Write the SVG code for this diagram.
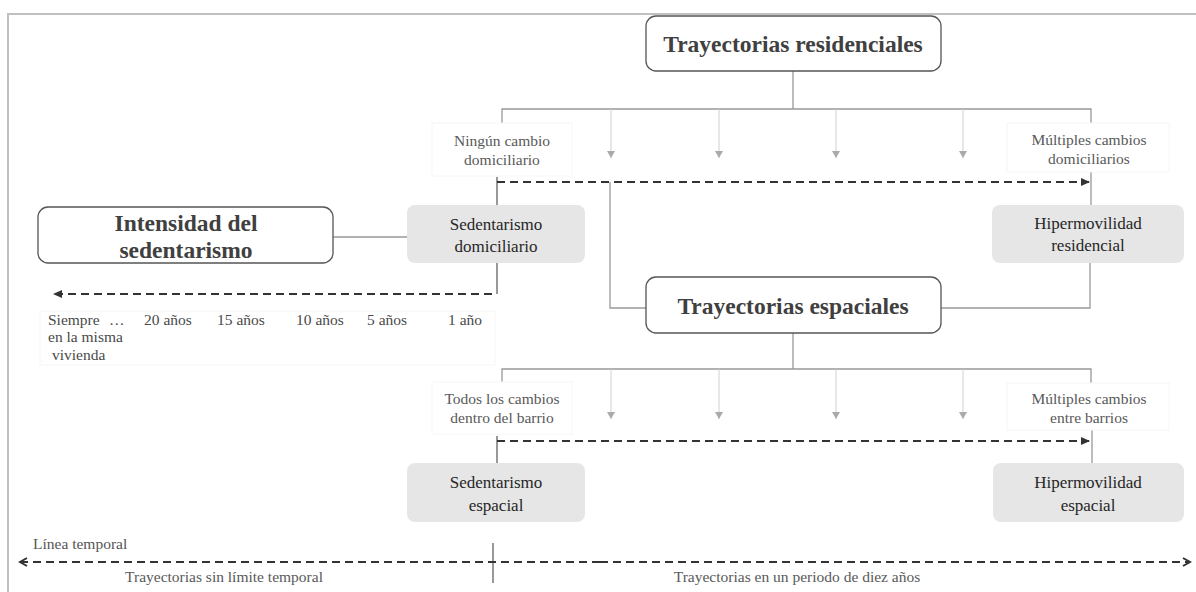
<svg xmlns="http://www.w3.org/2000/svg" width="1196" height="592" viewBox="0 0 1196 592">
<style>
.frame{fill:none;stroke:#c0c0c0;stroke-width:2}
.title{fill:#fff;stroke:#555;stroke-width:1.3}
.grey{fill:#e6e6e6;stroke:none}
.lbox{fill:#fff;stroke:#f6f6f6;stroke-width:1}
.t{font-family:"Liberation Serif","Times New Roman",serif;text-anchor:middle}
.tb{font-size:23.5px;font-weight:bold;fill:#404040}
.tn{font-size:17px;fill:#262626}
.tl{font-size:15.5px;fill:#595959}
.tm{font-family:"Liberation Serif","Times New Roman",serif;font-size:15.5px;fill:#4a4a4a}
.conn{fill:none;stroke:#999;stroke-width:1.3}
.thin{fill:none;stroke:#d0d0d0;stroke-width:1}
.dash{fill:none;stroke:#333;stroke-width:2;stroke-dasharray:8 5}
.tick{fill:none;stroke:#333;stroke-width:1}
</style>
<defs>
<marker id="ga" markerWidth="8" markerHeight="8" refX="4" refY="7" orient="0" markerUnits="userSpaceOnUse">
<path d="M0,0 L8,0 L4,7 Z" fill="#aaa"/>
</marker>
<marker id="da" markerWidth="9" markerHeight="8" refX="8" refY="4" orient="auto" markerUnits="userSpaceOnUse">
<path d="M0,0 L9,4 L0,8 Z" fill="#333"/>
</marker>
<marker id="oa" markerWidth="10" markerHeight="10" refX="8" refY="5" orient="auto" markerUnits="userSpaceOnUse">
<path d="M1,1 L8,5 L1,9" fill="none" stroke="#333" stroke-width="2"/>
</marker>
</defs>
<rect width="1196" height="592" fill="#fff"/>
<path class="frame" d="M8,592 L8,14 L1196,14"/>

<g id="connectors">
<path class="conn" d="M793,71 L793,109"/>
<path class="conn" d="M502,133 L502,109 L1091,109 L1091,125"/>
<path class="thin" d="M611,109 L611,158" marker-end="url(#ga)"/>
<path class="thin" d="M719,109 L719,158" marker-end="url(#ga)"/>
<path class="thin" d="M836,109 L836,158" marker-end="url(#ga)"/>
<path class="thin" d="M963,109 L963,158" marker-end="url(#ga)"/>
<path class="dash" d="M497,182 L1089,182" marker-end="url(#da)"/>
<path class="tick" d="M497,177 L497,205"/>
<path class="conn" d="M1091,172 L1091,205"/>
<path class="conn" d="M610,182 L610,308 L646,308"/>
<path class="conn" d="M1090,263 L1090,308 L941,308"/>
<path class="conn" d="M333,237 L407,237"/>
<path class="tick" d="M497,263 L497,294"/>
<path class="dash" d="M492,294 L54,294" marker-end="url(#da)"/>
<path class="conn" d="M793,333 L793,369"/>
<path class="conn" d="M502,391 L502,369 L1091,369 L1091,385"/>
<path class="thin" d="M611,369 L611,419" marker-end="url(#ga)"/>
<path class="thin" d="M719,369 L719,419" marker-end="url(#ga)"/>
<path class="thin" d="M836,369 L836,419" marker-end="url(#ga)"/>
<path class="thin" d="M963,369 L963,419" marker-end="url(#ga)"/>
<path class="dash" d="M497,441 L1089,441" marker-end="url(#da)"/>
<path class="tick" d="M497,436 L497,463"/>
<path class="conn" d="M1092,430 L1092,463"/>
<path class="dash" d="M600,562 L20,562" marker-end="url(#oa)"/>
<path class="dash" d="M600,562 L1190,562" marker-end="url(#oa)"/>
<path class="tick" d="M493,543 L493,583"/>
</g>

<g id="residenciales">
<rect class="title" x="646" y="16" width="295" height="55" rx="10"/>
<text class="t tb" x="793" y="52">Trayectorias residenciales</text>
</g>

<g id="ningun-cambio">
<rect class="lbox" x="432" y="123" width="140" height="53"/>
<text class="t tl" x="502" y="146">Ningún cambio</text>
<text class="t tl" x="502" y="165">domiciliario</text>
</g>

<g id="multiples-domiciliarios">
<rect class="lbox" x="1007" y="123" width="162" height="49"/>
<text class="t tl" x="1089" y="145">Múltiples cambios</text>
<text class="t tl" x="1089" y="164">domiciliarios</text>
</g>

<g id="intensidad">
<rect class="title" x="38" y="207" width="295" height="56" rx="10"/>
<text class="t tb" x="186" y="231">Intensidad del</text>
<text class="t tb" x="186" y="258">sedentarismo</text>
</g>

<g id="sed-domiciliario">
<rect class="grey" x="407" y="205" width="178" height="58" rx="8"/>
<text class="t tn" x="496" y="230">Sedentarismo</text>
<text class="t tn" x="496" y="252">domiciliario</text>
</g>

<g id="hiper-residencial">
<rect class="grey" x="992" y="205" width="192" height="58" rx="8"/>
<text class="t tn" x="1088" y="229">Hipermovilidad</text>
<text class="t tn" x="1088" y="251">residencial</text>
</g>

<g id="escala">
<rect class="lbox" x="40" y="311" width="455" height="54"/>
<text class="tm" x="48" y="325">Siempre</text>
<text class="tm" x="109" y="325">…</text>
<text class="tm" x="144" y="325">20 años</text>
<text class="tm" x="217" y="325">15 años</text>
<text class="tm" x="296" y="325">10 años</text>
<text class="tm" x="367" y="325">5 años</text>
<text class="tm" x="448" y="325">1 año</text>
<text class="tm" x="48" y="342">en la misma</text>
<text class="tm" x="52" y="360">vivienda</text>
</g>

<g id="espaciales">
<rect class="title" x="646" y="277" width="295" height="56" rx="10"/>
<text class="t tb" x="793" y="314">Trayectorias espaciales</text>
</g>

<g id="todos-cambios">
<rect class="lbox" x="432" y="382" width="140" height="52"/>
<text class="t tl" x="502" y="404">Todos los cambios</text>
<text class="t tl" x="502" y="423">dentro del barrio</text>
</g>

<g id="multiples-barrios">
<rect class="lbox" x="1007" y="383" width="162" height="47"/>
<text class="t tl" x="1089" y="404">Múltiples cambios</text>
<text class="t tl" x="1089" y="423">entre barrios</text>
</g>

<g id="sed-espacial">
<rect class="grey" x="407" y="463" width="178" height="59" rx="8"/>
<text class="t tn" x="496" y="488">Sedentarismo</text>
<text class="t tn" x="496" y="511">espacial</text>
</g>

<g id="hiper-espacial">
<rect class="grey" x="993" y="463" width="191" height="59" rx="8"/>
<text class="t tn" x="1088" y="488">Hipermovilidad</text>
<text class="t tn" x="1088" y="511">espacial</text>
</g>

<g id="linea-temporal">
<text class="tm" x="33" y="549" style="fill:#555">Línea temporal</text>
<text class="t tl" x="224" y="582">Trayectorias sin límite temporal</text>
<text class="t tl" x="797" y="582">Trayectorias  en un periodo de diez años</text>
</g>
</svg>
